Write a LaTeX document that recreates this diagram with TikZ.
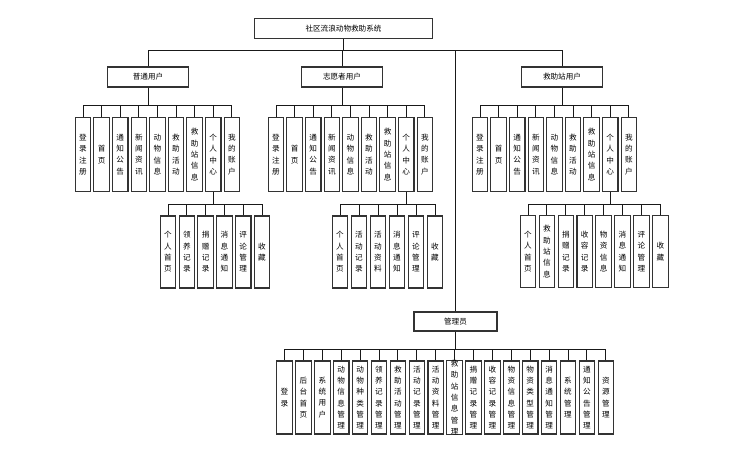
\documentclass[tikz,border=0pt]{standalone}
\usepackage{fontspec}
\newfontfamily\cjk{Noto Sans CJK SC}
\tikzset{
  every node/.style={font=\cjk\fontsize{7.6}{11.3}\selectfont},
  frame/.style={draw=black!80, line width=1.1pt, fill=white, inner sep=0pt, align=center},
  head/.style={frame, minimum width=81pt, minimum height=20pt},
  titlebox/.style={frame, minimum width=178pt, minimum height=20pt},
  leaf/.style={frame, minimum width=15.5pt, minimum height=74pt},
  link/.style={draw=black!90, line width=0.9pt},
}
% menu shared by all three user roles
\newcommand\menuitems{登\\录\\注\\册, 首\\页, 通\\知\\公\\告, 新\\闻\\资\\讯, 动\\物\\信\\息, 救\\助\\活\\动, 救\\助\\站\\信\\息, 个\\人\\中\\心, 我\\的\\账\\户}
\begin{document}
\begin{tikzpicture}[x=1pt,y=-1pt]
\useasboundingbox (0,0) rectangle (740,450);

% root
\node[titlebox] (sys) at (343.5,28.5) {社区流浪动物救助系统};
\coordinate (rootbar) at (343.5,50);
\draw[link] (sys.south) -- (rootbar);

% user roles
\foreach \r/\x/\label in {u1/148/普通用户, u2/342/志愿者用户, u3/562/救助站用户} {
  \node[head] (\r) at (\x,77) {\label};
  \draw[link] (\r.north) |- (rootbar);
}

% administrator
\node[head, minimum width=83pt, minimum height=19pt] (admin) at (455.5,321.5) {管理员};
\draw[link] (admin.north) |- (rootbar);

% role menus
\foreach \r/\xs in {u1/83, u2/276, u3/480} {
  \path (\r.south) ++(0,17.5) coordinate (\r-bar);
  \draw[link] (\r.south) -- (\r-bar);
  \foreach \t [count=\i] in \menuitems {
    \node[leaf] (\r-\i) at (\xs+18.6*\i-18.6,154.5) {\t};
    \draw[link] (\r-\i.north) |- (\r-bar);
  }
}

% personal centre of ordinary users
\path (u1-8.south) ++(0,12.5) coordinate (u1-8-bar);
\draw[link] (u1-8.south) -- (u1-8-bar);
\foreach \t [count=\i] in {个\\人\\首\\页, 领\\养\\记\\录, 捐\\赠\\记\\录, 消\\息\\通\\知, 评\\论\\管\\理, 收\\藏} {
  \node[leaf, minimum height=72pt] (p1-\i) at (168+18.8*\i-18.8,252) {\t};
  \draw[link] (p1-\i.north) |- (u1-8-bar);
}

% personal centre of volunteers
\path (u2-8.south) ++(0,12) coordinate (u2-8-bar);
\draw[link] (u2-8.south) -- (u2-8-bar);
\foreach \t [count=\i] in {个\\人\\首\\页, 活\\动\\记\\录, 活\\动\\资\\料, 消\\息\\通\\知, 评\\论\\管\\理, 收\\藏} {
  \node[leaf, minimum height=72pt] (p2-\i) at (340+19*\i-19,252) {\t};
  \draw[link] (p2-\i.north) |- (u2-8-bar);
}

% personal centre of rescue stations
\path (u3-8.south) ++(0,12) coordinate (u3-8-bar);
\draw[link] (u3-8.south) -- (u3-8-bar);
\foreach \t [count=\i] in {个\\人\\首\\页, 救\\助\\站\\信\\息, 捐\\赠\\记\\录, 收\\容\\记\\录, 物\\资\\信\\息, 消\\息\\通\\知, 评\\论\\管\\理, 收\\藏} {
  \node[leaf, minimum height=72pt] (p3-\i) at (528+18.9*\i-18.9,251.5) {\t};
  \draw[link] (p3-\i.north) |- (u3-8-bar);
}

% administrator menu
\path (admin.south) ++(0,18) coordinate (admin-bar);
\draw[link] (admin.south) -- (admin-bar);
\foreach \t [count=\i] in {登\\录, 后\\台\\首\\页, 系\\统\\用\\户, 动\\物\\信\\息\\管\\理, 动\\物\\种\\类\\管\\理, 领\\养\\记\\录\\管\\理, 救\\助\\活\\动\\管\\理, 活\\动\\记\\录\\管\\理, 活\\动\\资\\料\\管\\理, 救\\助\\站\\信\\息\\管\\理, 捐\\赠\\记\\录\\管\\理, 收\\容\\记\\录\\管\\理, 物\\资\\信\\息\\管\\理, 物\\资\\类\\型\\管\\理, 消\\息\\通\\知\\管\\理, 系\\统\\管\\理, 通\\知\\公\\告\\管\\理, 资\\源\\管\\理} {
  \node[leaf, minimum height=73pt] (a-\i) at (284.5+18.9*\i-18.9,397.5) {\t};
  \draw[link] (a-\i.north) |- (admin-bar);
}
\end{tikzpicture}
\end{document}
